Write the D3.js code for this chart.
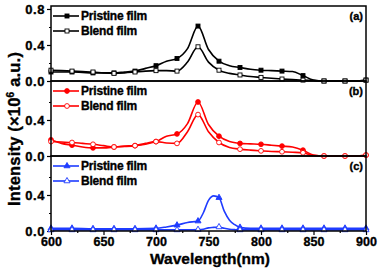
<!DOCTYPE html>
<html>
<head>
<meta charset="utf-8">
<script src="https://cdn.jsdelivr.net/npm/d3@7"></script>
<style>
  body { margin: 0; background: #fff; }
  svg { display: block; font-family: "Liberation Sans", Arial, sans-serif; font-weight: bold; }
</style>
</head>
<body>
<svg id="chart" width="382" height="270"></svg>
<script>
// wavelengths (nm) for panels a and b
var wlAB = [600,610,620,630,640,650,660,670,680,690,700,710,720,730,740,750,760,770,780,790,800,810,820,830,840,850,860,870,880,890,900];
var pristineA = [0.10,0.10,0.10,0.095,0.09,0.09,0.09,0.10,0.11,0.14,0.17,0.22,0.25,0.36,0.61,0.35,0.22,0.17,0.15,0.13,0.12,0.115,0.11,0.105,0.06,0.01,0,0,0,0,0.01];
var blendA    = [0.12,0.115,0.11,0.105,0.10,0.09,0.085,0.09,0.10,0.11,0.115,0.115,0.11,0.21,0.38,0.21,0.12,0.085,0.067,0.05,0.04,0.03,0.022,0.015,0.01,0.005,0,0,0,0,0.01];
var pristineB = [0.18,0.14,0.12,0.10,0.09,0.09,0.10,0.11,0.115,0.13,0.16,0.22,0.245,0.36,0.60,0.35,0.22,0.16,0.14,0.135,0.13,0.12,0.11,0.10,0.065,0.01,0,0,0,0,0.01];
var blendB    = [0.16,0.155,0.15,0.14,0.13,0.115,0.10,0.105,0.115,0.14,0.16,0.145,0.14,0.27,0.46,0.27,0.15,0.095,0.076,0.065,0.057,0.05,0.047,0.042,0.036,0.005,0,0,0,0,0.01];
// panel c has a sharper peak, read at finer steps
var wlC       = [600,620,640,660,680,700,710,720,730,740,745,750,755,760,765,770,775,780,790,800,820,840,860,880,900];
var pristineC = [0.03,0.03,0.025,0.025,0.025,0.03,0.045,0.065,0.095,0.11,0.2,0.34,0.39,0.37,0.22,0.12,0.07,0.04,0.03,0.03,0.03,0.03,0.03,0.03,0.03];
var blendC    = [0.012,0.012,0.012,0.012,0.012,0.012,0.012,0.012,0.012,0.015,0.02,0.035,0.04,0.045,0.03,0.02,0.015,0.012,0.012,0.012,0.012,0.012,0.012,0.012,0.012];

var xTicks = [600,650,700,750,800,850,900];
var seriesNames = ['Pristine film', 'Blend film'];
var panelLabels = ['(a)', '(b)', '(c)'];
var colors = ['#000000', '#ff0000', '#1f3cff'];
var markers = ['square', 'circle', 'triangle'];

var panels = [
  {wl: wlAB, series: [pristineA, blendA]},
  {wl: wlAB, series: [pristineB, blendB]},
  {wl: wlC,  series: [pristineC, blendC]}
];

var svg = d3.select('#chart'),
    left = 51, right = 366,
    panelH = 75,
    tops = [6, 81, 156];

var x = d3.scaleLinear().domain([600, 900]).range([left, right]);

function marker(g, type, cx, cy, color, filled) {
  var fill = filled ? color : '#fff';
  if (type == 'square') {
    g.append('rect').attr('x', cx - 2).attr('y', cy - 2).attr('width', 4).attr('height', 4)
      .attr('fill', fill).attr('stroke', color).attr('stroke-width', 0.9);
  } else if (type == 'circle') {
    g.append('circle').attr('cx', cx).attr('cy', cy).attr('r', 2.4)
      .attr('fill', fill).attr('stroke', color).attr('stroke-width', 0.9);
  } else {
    g.append('path').attr('d', d3.symbol(d3.symbolTriangle, 16)())
      .attr('transform', 'translate(' + cx + ',' + cy + ')')
      .attr('fill', fill).attr('stroke', color).attr('stroke-width', 0.9);
  }
}

// heavy text like the original export
function heavy(sel) {
  sel.attr('stroke', '#000').attr('stroke-width', 0.35).attr('fill', '#000');
}

panels.forEach(function(p, i) {
  var top = tops[i],
      y = d3.scaleLinear().domain([0, 0.833]).range([top + panelH, top]),
      g = svg.append('g'),
      color = colors[i];

  // minor y ticks
  g.append('g').attr('transform', 'translate(' + left + ',0)')
    .call(d3.axisLeft(y).tickValues([0.2, 0.6]).tickSize(2).tickFormat(''))
    .call(function(a) { a.select('.domain').remove(); a.selectAll('line').attr('stroke-width', 1.2); });

  var yAxis = g.append('g').attr('transform', 'translate(' + left + ',0)')
    .call(d3.axisLeft(y).tickValues(i == 0 ? [0, 0.4, 0.8] : [0, 0.4]).tickSize(4).tickPadding(2).tickFormat(d3.format('.1f')));
  yAxis.select('.domain').remove();
  yAxis.selectAll('line').attr('stroke-width', 1.2);
  yAxis.selectAll('text').attr('font-size', 13).attr('font-weight', 'bold')
    .attr('font-family', '"Liberation Sans", Arial, sans-serif').attr('letter-spacing', 0.6).call(heavy);

  var line = d3.line()
    .x(function(d) { return x(d[0]); })
    .y(function(d) { return y(d[1]); })
    .curve(d3.curveMonotoneX);

  p.series.forEach(function(vals, s) {
    var pts = p.wl.map(function(w, k) { return [w, vals[k]]; });
    g.append('path').datum(pts).attr('d', line)
      .attr('fill', 'none').attr('stroke', color).attr('stroke-width', 1.6);
  });
  // markers on top, every 20 nm
  p.series.forEach(function(vals, s) {
    p.wl.forEach(function(w, k) {
      if (w % 20 == 0) marker(g, markers[i], x(w), y(vals[k]), color, s == 0);
    });
  });

  // frame
  g.append('rect').attr('x', left).attr('y', top).attr('width', right - left).attr('height', panelH)
    .attr('fill', 'none').attr('stroke', '#000').attr('stroke-width', 1.5);

  // legend
  seriesNames.forEach(function(name, s) {
    var ly = top + 10 + s * 15;
    g.append('line').attr('x1', 53).attr('x2', 79).attr('y1', ly).attr('y2', ly)
      .attr('stroke', color).attr('stroke-width', 1.6);
    marker(g, markers[i], 67, ly, color, s == 0);
    g.append('text').attr('x', 81).attr('y', ly + 4).attr('font-size', 12).attr('letter-spacing', -0.2)
      .text(name).call(heavy);
  });

  g.append('text').attr('x', 363).attr('y', top + 14).attr('text-anchor', 'end')
    .attr('font-size', 11).text(panelLabels[i]).call(heavy);
});

// x axis under the bottom panel
var bottom = tops[2] + panelH;
svg.append('g').attr('transform', 'translate(0,' + bottom + ')')
  .call(d3.axisBottom(x).tickValues([625, 675, 725, 775, 825, 875]).tickSize(2).tickFormat(''))
  .call(function(a) { a.select('.domain').remove(); a.selectAll('line').attr('stroke-width', 1.2); });
var xAxis = svg.append('g').attr('transform', 'translate(0,' + bottom + ')')
  .call(d3.axisBottom(x).tickValues(xTicks).tickSize(4).tickPadding(2).tickFormat(d3.format('d')));
xAxis.select('.domain').remove();
xAxis.selectAll('line').attr('stroke-width', 1.2);
xAxis.selectAll('text').attr('font-size', 12.5).attr('font-weight', 'bold')
  .attr('font-family', '"Liberation Sans", Arial, sans-serif').call(heavy);

svg.append('text').attr('x', 210).attr('y', 264).attr('text-anchor', 'middle')
  .attr('font-size', 15.5).text('Wavelength(nm)').call(heavy);

svg.append('text').attr('transform', 'translate(19.5,129) rotate(-90)').attr('text-anchor', 'middle')
  .attr('font-size', 16.5).attr('letter-spacing', 0.2)
  .html('Intensity (\u00d710<tspan dy="-6" font-size="10">6</tspan><tspan dy="6"> a.u.)</tspan>').call(heavy);
</script>
</body>
</html>
